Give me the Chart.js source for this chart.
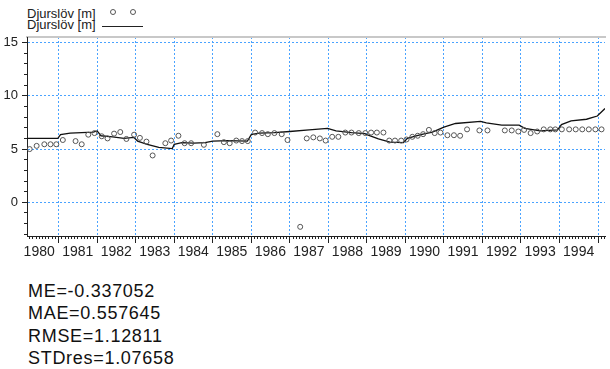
<!DOCTYPE html>
<html>
<head>
<meta charset="utf-8">
<script src="https://cdn.jsdelivr.net/npm/chart.js@4.4.1/dist/chart.umd.min.js"></script>
<style>
  body { margin: 0; background: #fff; width: 610px; height: 369px; overflow: hidden; position: relative; font-family: Arial, 'Liberation Sans', sans-serif; }
  #wrap { position: absolute; left: 0; top: 0; width: 610px; height: 262px; }
  .leg { position: absolute; left: 27px; font-size: 13px; line-height: 12px; color: #222; white-space: nowrap; }
  .leg-dot { position: absolute; width: 6px; height: 6px; box-sizing: border-box; border: 1px solid #555; border-radius: 50%; }
  .leg-line { position: absolute; left: 102px; top: 26px; width: 41px; height: 1px; background: #222; }
  #stats { position: absolute; left: 28px; top: 280px; font-size: 18px; letter-spacing: 0.7px; line-height: 22.3px; color: #111; }
</style>
</head>
<body>
<div class="leg" style="top:8px">Djurslöv [m]</div>
<div class="leg-dot" style="left:110px; top:9px"></div>
<div class="leg-dot" style="left:130px; top:9px"></div>
<div class="leg" style="top:19px">Djurslöv [m]</div>
<div class="leg-line"></div>

<div id="wrap"><canvas id="chart" width="610" height="262"></canvas></div>

<div id="stats">
  <div>ME=-0.337052</div>
  <div>MAE=0.557645</div>
  <div>RMSE=1.12811</div>
  <div>STDres=1.07658</div>
</div>

<script>
// observed values (circles)
const obsYears = [
  1980.25, 1980.43, 1980.63, 1980.79, 1980.94, 1981.11, 1981.44, 1981.6, 1981.77, 1981.93,
  1982.12, 1982.27, 1982.44, 1982.6, 1982.76, 1982.96, 1983.11, 1983.28, 1983.44, 1983.77,
  1983.92, 1984.11, 1984.27, 1984.44, 1984.77, 1985.12, 1985.29, 1985.44, 1985.61, 1985.76,
  1985.91, 1986.1, 1986.28, 1986.43, 1986.6, 1986.79, 1986.94, 1987.27, 1987.44, 1987.61,
  1987.78, 1987.93, 1988.1, 1988.26, 1988.44, 1988.6, 1988.79, 1988.96, 1989.11, 1989.26,
  1989.43, 1989.58, 1989.73, 1989.89, 1990.03, 1990.18, 1990.32, 1990.46, 1990.61, 1990.76,
  1990.91, 1991.09, 1991.26, 1991.42, 1991.6, 1991.92, 1992.13, 1992.58, 1992.76, 1992.93,
  1993.08, 1993.25, 1993.42, 1993.59, 1993.76, 1993.89, 1994.06, 1994.25, 1994.42, 1994.59,
  1994.76, 1994.93, 1995.09
];
const obsValues = [
  5.0, 5.3, 5.45, 5.45, 5.45, 5.85, 5.75, 5.45, 6.35, 6.5,
  6.2, 6.0, 6.45, 6.6, 5.95, 6.35, 6.05, 5.7, 4.4, 5.55,
  5.8, 6.25, 5.55, 5.55, 5.4, 6.4, 5.65, 5.55, 5.8, 5.75,
  5.75, 6.55, 6.5, 6.4, 6.5, 6.4, 5.85, -2.3, 6.0, 6.1,
  6.0, 5.8, 6.15, 6.15, 6.55, 6.55, 6.5, 6.5, 6.55, 6.55,
  6.55, 5.8, 5.8, 5.8, 5.9, 6.15, 6.25, 6.4, 6.8, 6.5,
  6.55, 6.3, 6.3, 6.25, 6.85, 6.75, 6.75, 6.75, 6.75, 6.65,
  6.8, 6.5, 6.65, 6.85, 6.85, 6.85, 6.85, 6.85, 6.85, 6.85,
  6.85, 6.85, 6.85
];

// simulated values (line)
const simYears = [
  1980.18, 1980.5, 1980.98, 1981.05, 1981.3, 1981.6, 1981.9, 1982.0, 1982.1, 1982.4,
  1982.7, 1982.95, 1983.05, 1983.3, 1983.6, 1983.95, 1984.0, 1984.2, 1984.5, 1984.8,
  1985.0, 1985.4, 1985.9, 1986.0, 1986.2, 1986.6, 1987.0, 1987.5, 1987.98, 1988.2,
  1988.6, 1988.95, 1989.0, 1989.3, 1989.6, 1989.95, 1990.05, 1990.4, 1990.7, 1991.0,
  1991.3, 1991.95, 1992.1, 1992.5, 1992.95, 1993.1, 1993.5, 1993.95, 1994.05, 1994.3,
  1994.7, 1994.98, 1995.18
];
const simValues = [
  6.0, 6.0, 6.0, 6.35, 6.5, 6.55, 6.6, 6.7, 6.25, 6.15,
  6.0, 6.1, 5.75, 5.45, 5.15, 5.05, 5.45, 5.6, 5.55, 5.6,
  5.75, 5.8, 5.75, 6.35, 6.5, 6.55, 6.65, 6.8, 6.95, 6.7,
  6.55, 6.45, 6.35, 5.95, 5.65, 5.6, 6.0, 6.35, 6.6, 7.05,
  7.4, 7.6, 7.45, 7.25, 7.25, 6.95, 6.7, 6.8, 7.3, 7.65,
  7.8, 8.1, 8.8
];

const yearLabels = ['1980', '1981', '1982', '1983', '1984', '1985', '1986', '1987',
  '1988', '1989', '1990', '1991', '1992', '1993', '1994'];
const yTickValues = [0, 5, 10, 15];

const X_MIN = 1980.18, X_MAX = 1995.18;
const Y_MIN = -3.16, Y_MAX = 15.52;

const GRID_BLUE = '#4aa3ff';
const AXIS_DARK = '#222';
const tickFont = "'Liberation Sans Narrow', Arial, sans-serif";

new Chart(document.getElementById('chart'), {
  type: 'scatter',
  data: {
    datasets: [
      {
        label: 'Djurslöv [m]',
        data: obsYears.map((x, i) => ({ x, y: obsValues[i] })),
        pointRadius: 2.5,
        pointBorderWidth: 1,
        pointBorderColor: '#555',
        pointBackgroundColor: 'rgba(255,255,255,0)',
        showLine: false,
        xAxisID: 'x',
        yAxisID: 'y'
      },
      {
        label: 'Djurslöv [m]',
        data: simYears.map((x, i) => ({ x, y: simValues[i] })),
        showLine: true,
        pointRadius: 0,
        borderColor: '#111',
        borderWidth: 1.3,
        tension: 0,
        xAxisID: 'x',
        yAxisID: 'y'
      }
    ]
  },
  options: {
    responsive: false,
    animation: false,
    layout: { padding: { top: 37, left: 0, right: 0, bottom: 0 } },
    plugins: { legend: { display: false }, tooltip: { enabled: false } },
    scales: {
      // top grey frame line
      xTop: {
        type: 'linear', position: 'top', min: X_MIN, max: X_MAX,
        afterBuildTicks: s => { s.ticks = []; },
        afterFit: s => { s.height = 0; s.paddingLeft = 0; s.paddingRight = 0; },
        ticks: { display: false },
        grid: { drawOnChartArea: false, drawTicks: false },
        border: { color: '#c8c8c8', width: 2 }
      },
      // monthly minor ticks
      xMinor: {
        type: 'linear', position: 'bottom', weight: 0, min: X_MIN, max: X_MAX,
        afterBuildTicks: s => {
          const t = [];
          for (let m = Math.ceil(X_MIN * 12); m <= Math.floor(X_MAX * 12); m++) {
            if (m % 12) t.push({ value: m / 12 });
          }
          s.ticks = t;
        },
        afterFit: s => { s.height = 0; s.paddingLeft = 0; s.paddingRight = 0; },
        ticks: { display: false },
        grid: { drawOnChartArea: false, tickLength: 3, tickColor: AXIS_DARK },
        border: { display: false }
      },
      x: {
        type: 'linear', position: 'bottom', weight: 1, min: X_MIN, max: X_MAX,
        afterBuildTicks: s => { s.ticks = yearLabels.map((_, i) => ({ value: 1981 + i })); },
        afterFit: s => { s.height = 26; s.paddingLeft = 0; s.paddingRight = 0; },
        ticks: {
          autoSkip: false, maxRotation: 0, minRotation: 0, padding: 1,
          labelOffset: -19.43, color: AXIS_DARK,
          font: { family: tickFont, size: 14 },
          callback: (v, i) => yearLabels[i]
        },
        grid: { color: GRID_BLUE, lineWidth: 1, tickLength: 7, tickColor: AXIS_DARK },
        border: { color: AXIS_DARK, width: 1, dash: [2, 2] }
      },
      // unit minor ticks
      yMinor: {
        type: 'linear', position: 'left', weight: 0, min: Y_MIN, max: Y_MAX,
        afterBuildTicks: s => {
          const t = [];
          for (let v = Math.ceil(Y_MIN); v <= Math.floor(Y_MAX); v++) {
            if (v % 5) t.push({ value: v });
          }
          s.ticks = t;
        },
        afterFit: s => { s.width = 0; s.paddingTop = 0; s.paddingBottom = 0; },
        ticks: { display: false },
        grid: { drawOnChartArea: false, tickLength: 3, tickColor: AXIS_DARK },
        border: { display: false }
      },
      y: {
        type: 'linear', position: 'left', weight: 1, min: Y_MIN, max: Y_MAX,
        afterBuildTicks: s => { s.ticks = yTickValues.map(v => ({ value: v })); },
        afterFit: s => { s.width = 27; s.paddingTop = 0; s.paddingBottom = 0; },
        ticks: {
          padding: 4, color: AXIS_DARK,
          font: { family: tickFont, size: 13 },
          callback: v => String(v)
        },
        grid: { color: GRID_BLUE, lineWidth: 1, tickLength: 5, tickColor: AXIS_DARK },
        border: { color: AXIS_DARK, width: 1, dash: [2, 2] }
      }
    }
  }
});
</script>
</body>
</html>
